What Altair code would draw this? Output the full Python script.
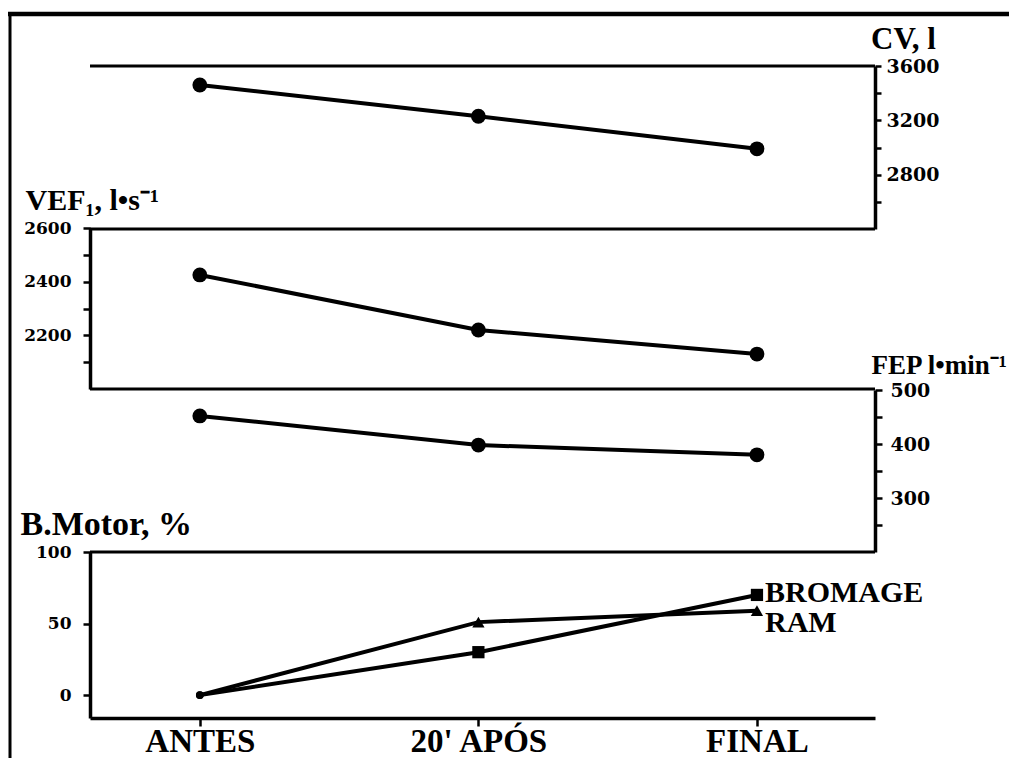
import altair as alt
import pandas as pd

# ---- data ----
phases = ["ANTES", "20' APÓS", "FINAL"]
cv_values = [3460, 3230, 2990]          # CV, l
vef_values = [2425, 2220, 2130]         # VEF1, l.s-1
fep_values = [452, 398, 380]            # FEP l.min-1
bromage_values = [0, 30, 70]            # B. Motor (%), Bromage
ram_values = [0, 51, 59]                # B. Motor (%), RAM
series_names = ["BROMAGE", "RAM"]

cv_ticks = [2600, 2800, 3000, 3200, 3400, 3600]
vef_ticks = [2100, 2200, 2300, 2400, 2500, 2600]
fep_ticks = [250, 300, 350, 400, 450, 500]
bm_ticks = [0, 50, 100]

W, H = 785, 652
SERIF = "Liberation Serif"
DIGITS = "DejaVu Serif"

x_enc = alt.X(
    "fase:N",
    sort=phases,
    scale=alt.Scale(type="point", padding=0.409, align=0.482),
    axis=alt.Axis(
        title=None, orient="bottom", labelAngle=0,
        labelFont=SERIF, labelFontSize=33, labelFontWeight="bold", labelColor="black",
        labelPadding=-1, labelBaseline="top",
        tickSize=8, tickWidth=2.5, tickColor="black",
        domainColor="black", domainWidth=3.5, grid=False,
    ),
)


def y_axis(orient, values, expr, size, tick, pad, title, tx, ty, talign, tsize=30):
    kw = dict(
        orient=orient, values=values, format="d",
        labelFont=DIGITS, labelFontSize=size, labelFontWeight="bold", labelColor="black",
        labelPadding=pad, labelOverlap=False,
        tickSize=tick, tickWidth=2.5, tickColor="black",
        domainColor="black", domainWidth=3.5, grid=False,
        title=title, titleAngle=0, titleX=tx, titleY=ty, titleAlign=talign,
        titleBaseline="alphabetic", titleFont=SERIF, titleFontSize=tsize,
        titleFontWeight="bold", titleColor="black",
    )
    if expr:
        kw["labelExpr"] = expr
    return alt.Axis(**kw)


def panel(values, domain, rng, axis, boundaries):
    df = pd.DataFrame({"fase": phases, "valor": values})
    scale = alt.Scale(domain=domain, range=rng, nice=False, zero=False)
    y = alt.Y("valor:Q", scale=scale, axis=axis)
    rules = alt.Chart(pd.DataFrame({"valor": boundaries})).mark_rule(
        color="black", strokeWidth=3).encode(y=y)
    line = alt.Chart(df).mark_line(color="black", strokeWidth=4).encode(x=x_enc, y=y)
    pts = alt.Chart(df).mark_point(
        filled=True, shape="circle", size=220, color="black", opacity=1
    ).encode(x=x_enc, y=y)
    return alt.layer(rules, line, pts)


cv_axis = y_axis("right", cv_ticks, "datum.value % 400 == 0 ? datum.label : ''",
                 19, 6, 5, "CV, l", 28, -18, "center", 31)
vef_axis = y_axis("left", vef_ticks, "datum.value % 200 == 0 ? datum.label : ''",
                  17, 7, 12, "VEF\u2081, l\u2022s\u207b\u00b9", -65, 143, "left")
fep_axis = y_axis("right", fep_ticks, "datum.value % 100 == 0 ? datum.label : ''",
                  19, 7, 8, "FEP l\u2022min\u207b\u00b9", -4, 307, "left", 27)
bm_axis = y_axis("left", bm_ticks, None, 17, 7, 12, "B.Motor, %", -70, 468, "left", 34)

cv_panel = panel(cv_values, [2400, 3600], [163, 0], cv_axis, [3600, 2400])
vef_panel = panel(vef_values, [2000, 2600], [323, 162], vef_axis, [2000])
fep_panel = panel(fep_values, [200, 500], [486, 324], fep_axis, [200])

# ---- B. Motor panel ----
bm_df = pd.DataFrame({
    "fase": phases * 2,
    "valor": bromage_values + ram_values,
    "serie": [series_names[0]] * 3 + [series_names[1]] * 3,
})
bm_scale = alt.Scale(domain=[-16, 100], range=[652, 486], nice=False, zero=False)
bm_y = alt.Y("valor:Q", scale=bm_scale, axis=bm_axis)
bm_base = alt.Chart(bm_df)
bm_lines = bm_base.mark_line(color="black", strokeWidth=4).encode(
    x=x_enc, y=bm_y, detail="serie:N")
bm_marks = bm_base.transform_filter("datum.fase != 'ANTES'").mark_point(
    filled=True, color="black", opacity=1, size=150
).encode(
    x=x_enc, y=bm_y,
    shape=alt.Shape("serie:N", scale=alt.Scale(domain=series_names,
                                               range=["square", "triangle-up"]),
                    legend=None),
)
bm_start = bm_base.transform_filter("datum.fase == 'ANTES'").mark_point(
    filled=True, shape="circle", color="black", opacity=1, size=60
).encode(x=x_enc, y=bm_y)
lab_b = bm_base.transform_filter("datum.fase == 'FINAL' && datum.serie == 'BROMAGE'").mark_text(
    align="left", baseline="middle", dx=8, dy=-2, font=SERIF, fontSize=30,
    fontWeight="bold", color="black"
).encode(x=x_enc, y=bm_y, text="serie:N")
lab_r = bm_base.transform_filter("datum.fase == 'FINAL' && datum.serie == 'RAM'").mark_text(
    align="left", baseline="middle", dx=8, dy=12, font=SERIF, fontSize=30,
    fontWeight="bold", color="black"
).encode(x=x_enc, y=bm_y, text="serie:N")
bm_panel = alt.layer(bm_lines, bm_marks, bm_start, lab_b, lab_r)

# ---- scanned page border ----
one = pd.DataFrame({"k": [0]})
frame_top = alt.Chart(one).mark_rule(color="black", strokeWidth=4.5).encode(
    x=alt.value(-82), x2=alt.value(935), y=alt.value(-52))
frame_left = alt.Chart(one).mark_rule(color="black", strokeWidth=3).encode(
    x=alt.value(-80), y=alt.value(-54), y2=alt.value(700))

chart = alt.layer(
    cv_panel, vef_panel, fep_panel, bm_panel, frame_top, frame_left
).resolve_scale(y="independent").resolve_axis(y="independent").properties(
    width=W, height=H,
    autosize=alt.AutoSizeParams(type="none"),
    padding={"left": 82, "top": 58, "right": 134, "bottom": 40},
    background="white",
).configure_view(stroke=None)

chart.save("out.html", embed_options={"renderer": "svg", "actions": False})
